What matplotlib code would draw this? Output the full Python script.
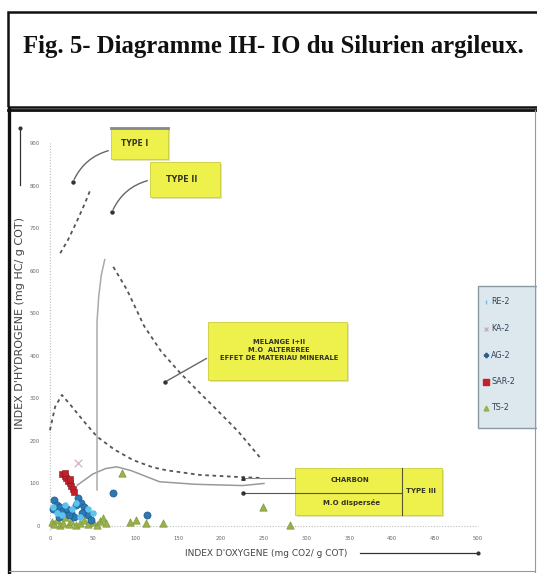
import matplotlib
matplotlib.use("Agg")
import matplotlib.pyplot as plt
from matplotlib.patches import Rectangle
from matplotlib.lines import Line2D

# ---- donnees ----
re2_io = [8, 14, 18, 26, 35, 44, 50, 4, 30]
re2_ih = [30, 25, 50, 40, 20, 40, 30, 45, 55]
ka2_io = [33]
ka2_ih = [148]
ag2_io = [5, 8, 3, 12, 15, 20, 25, 30, 33, 36, 40, 42, 45, 38, 28, 22, 10, 48, 74, 113]
ag2_ih = [60, 50, 40, 45, 35, 40, 30, 50, 65, 55, 45, 35, 25, 30, 20, 25, 20, 15, 78, 26]
sar2_io = [14, 17, 19, 21, 23, 25, 27, 28, 24, 18]
sar2_ih = [122, 118, 112, 105, 100, 93, 86, 80, 110, 125]
ts2_io = [2, 5, 8, 12, 15, 18, 22, 25, 30, 35, 40, 45, 50, 55, 58, 62, 65, 84, 93, 100, 112, 132, 249, 280]
ts2_ih = [10, 5, 15, 3, 8, 20, 5, 12, 3, 8, 15, 5, 10, 2, 12, 18, 8, 125, 10, 15, 8, 8, 45, 3]

type1_io = [12, 21, 31, 41, 47]
type1_ih = [641, 672, 714, 759, 789]
type2_io = [74, 90, 110, 130, 152, 175, 195, 220, 245]
type2_ih = [609, 555, 470, 410, 360, 313, 273, 222, 162]
type3_io = [0, 6, 14, 25, 40, 55, 75, 97, 120, 136, 175, 222, 245]
type3_ih = [225, 280, 308, 282, 245, 210, 180, 155, 138, 131, 120, 115, 113]
solide_io = [32, 50, 65, 78, 95, 128, 170, 225, 250]
solide_ih = [96, 122, 135, 139, 130, 104, 98, 95, 100]
vert_io = [64, 60, 57, 55, 55]
vert_ih = [626, 590, 540, 480, 85]

xt = list(range(0, 501, 50))
yt = list(range(0, 901, 100))

W, H = 537, 574
def fx(p): return p / W
def fy(p): return 1 - p / H

fig = plt.figure(figsize=(W / 100, H / 100), dpi=100)
fig.patch.set_facecolor("white")

# cadres
fig.add_artist(Rectangle((fx(8), fy(107)), fx(545) - fx(8), fy(12) - fy(107),
                         transform=fig.transFigure, fill=False, lw=1.8, ec="#111111"))
fig.add_artist(Line2D([fx(9), fx(9)], [fy(109), fy(574)], transform=fig.transFigure, lw=2.4, color="#111111"))
fig.add_artist(Line2D([fx(8), fx(537)], [fy(110), fy(110)], transform=fig.transFigure, lw=2.0, color="#111111"))
fig.add_artist(Line2D([fx(535), fx(535)], [fy(110), fy(572)], transform=fig.transFigure, lw=0.8, color="#999999"))
fig.add_artist(Line2D([fx(9), fx(535)], [fy(571), fy(571)], transform=fig.transFigure, lw=0.8, color="#999999"))

fig.text(fx(273), fy(46), "Fig. 5- Diagramme IH- IO du Silurien argileux.", ha="center", va="center",
         fontsize=17.8, fontweight="bold", family="Liberation Serif", color="#111111")

ax = fig.add_axes([fx(41.4), fy(534.5), (495 - 41.4) / W, (534.5 - 117.5) / H])
ax.set_xlim(-10, 520); ax.set_ylim(-20, 960)
for s in ax.spines.values(): s.set_visible(False)
ax.set_xticks(xt); ax.set_yticks(yt)
ax.tick_params(length=0, labelsize=3.8, labelcolor="#666666", pad=1)
ax.patch.set_alpha(0)

ax.plot([0, 0], [-10, 900], ls=(0, (1, 1.5)), color="#bbbbbb", lw=0.8)
ax.plot([0, 500], [0, 0], ls=(0, (1, 1.5)), color="#bbbbbb", lw=0.8)

# courbes
ax.plot(type1_io, type1_ih, ls=(0, (2, 2)), color="#555555", lw=1.3)
ax.plot(type2_io, type2_ih, ls=(0, (2, 2)), color="#555555", lw=1.3)
ax.plot(type3_io, type3_ih, ls=(0, (2, 2)), color="#555555", lw=1.3)
ax.plot(solide_io, solide_ih, color="#999999", lw=1.1)
ax.plot(vert_io, vert_ih, color="#aaaaaa", lw=1.1)

# points
ax.scatter(ts2_io, ts2_ih, marker="^", s=28, color="#9bb04a", edgecolor="#7d9a3a", lw=0.5, zorder=3)
ax.scatter(ag2_io, ag2_ih, marker="o", s=26, color="#2b78b5", edgecolor="#1f5a8a", lw=0.5, zorder=4)
ax.scatter(re2_io, re2_ih, marker="o", s=22, color="#5cc3ec", lw=0, zorder=4)
ax.scatter(sar2_io, sar2_ih, marker="s", s=24, color="#c4202c", edgecolor="#8a1a20", lw=0.4, zorder=5)
ax.scatter(ka2_io, ka2_ih, marker="x", s=30, color="#d9b8c0", lw=1.0, zorder=5)

# boites
jaune = "#eef04c"
def boite(x0, x1, y0, y1):
    fig.add_artist(Rectangle((fx(x0 + 2), fy(y1 + 2)), fx(x1) - fx(x0), fy(y0) - fy(y1),
                             transform=fig.transFigure, fc="#cfcf9a", ec="none", alpha=0.6))
    fig.add_artist(Rectangle((fx(x0), fy(y1)), fx(x1) - fx(x0), fy(y0) - fy(y1),
                             transform=fig.transFigure, fc=jaune, ec="#c9cc3a", lw=0.6))

def lien(xa, ya, xb, yb, rad):
    ax.annotate("", xy=(xb, yb), xytext=(xa, ya), xycoords=fig.transFigure, textcoords=fig.transFigure,
                arrowprops=dict(arrowstyle="-", color="#666666", lw=1.0, connectionstyle=f"arc3,rad={rad}"))
    fig.add_artist(Line2D([xb], [yb], transform=fig.transFigure, marker="o", ms=2.2, color="#333333"))

txt = dict(fontweight="bold", color="#333322", ha="center", va="center")

boite(111, 168, 128, 159)
fig.add_artist(Line2D([fx(111), fx(168)], [fy(127.5), fy(127.5)], transform=fig.transFigure, lw=2, color="#888888"))
fig.text(fx(135), fy(143), "TYPE I", fontsize=5.5, **txt)
lien(fx(111), fy(150), fx(73), fy(182), 0.25)

boite(150, 220, 162, 197)
fig.text(fx(182), fy(180), "TYPE II", fontsize=5.8, **txt)
lien(fx(150), fy(180), fx(112), fy(212), 0.25)

boite(208, 347, 322, 380)
fig.text(fx(279), fy(350), "MELANGE I+II\nM.O  ALTEREREE\nEFFET DE MATERIAU MINERALE", fontsize=4.9,
         linespacing=1.45, **txt)
lien(fx(209), fy(357), fx(165), fy(382), 0.0)

boite(295, 442, 468, 515)
fig.add_artist(Line2D([fx(402), fx(402)], [fy(468), fy(515)], transform=fig.transFigure, lw=0.8, color="#555533"))
fig.add_artist(Line2D([fx(243), fx(402)], [fy(493), fy(493)], transform=fig.transFigure, lw=0.8, color="#555555"))
fig.add_artist(Line2D([fx(243), fx(295)], [fy(478), fy(478)], transform=fig.transFigure, lw=0.8, color="#888888"))
fig.add_artist(Line2D([fx(243)], [fy(478)], transform=fig.transFigure, marker="^", ms=2.5, color="#333333"))
fig.add_artist(Line2D([fx(243)], [fy(493)], transform=fig.transFigure, marker="o", ms=2.2, color="#333333"))
fig.text(fx(350), fy(480), "CHARBON", fontsize=5, **txt)
fig.text(fx(352), fy(503), "M.O dispersée", fontsize=5, **txt)
fig.text(fx(421), fy(491), "TYPE III", fontsize=5, **txt)

# legende
fig.add_artist(Rectangle((fx(478), fy(428)), fx(545) - fx(478), fy(286) - fy(428),
                         transform=fig.transFigure, fc="#dde8ee", ec="#8a9aa5", lw=1.0))
leg = [("RE-2", "|", "#5cc3ec", 3.5), ("KA-2", "x", "#c8b0b8", 3), ("AG-2", "P", "#2b5f8a", 3),
       ("SAR-2", "s", "#c4202c", 4.5), ("TS-2", "^", "#9bb04a", 3.5)]
for i, (lab, mk, col, ms) in enumerate(leg):
    yy = 302 + i * 26.5
    fig.add_artist(Line2D([fx(486)], [fy(yy)], transform=fig.transFigure, marker=mk, ms=ms, color=col, lw=0))
    fig.text(fx(491), fy(yy), lab, fontsize=5.8, color="#334455", va="center")

# titres d'axes
fig.text(fx(20), fy(323), "INDEX D'HYDROGENE (mg HC/ g COT)", rotation=90, fontsize=8, color="#444444",
         ha="center", va="center")
fig.add_artist(Line2D([fx(20), fx(20)], [fy(185), fy(128)], transform=fig.transFigure, lw=0.9, color="#333333"))
fig.add_artist(Line2D([fx(20)], [fy(128)], transform=fig.transFigure, marker="o", ms=2, color="#333333"))
fig.text(fx(266), fy(553), "INDEX D'OXYGENE (mg CO2/ g COT)", fontsize=6.5, color="#444444", ha="center", va="center")
fig.add_artist(Line2D([fx(360), fx(478)], [fy(553), fy(553)], transform=fig.transFigure, lw=0.9, color="#333333"))
fig.add_artist(Line2D([fx(478)], [fy(553)], transform=fig.transFigure, marker="o", ms=2, color="#333333"))

fig.savefig("out.png", dpi=100)
